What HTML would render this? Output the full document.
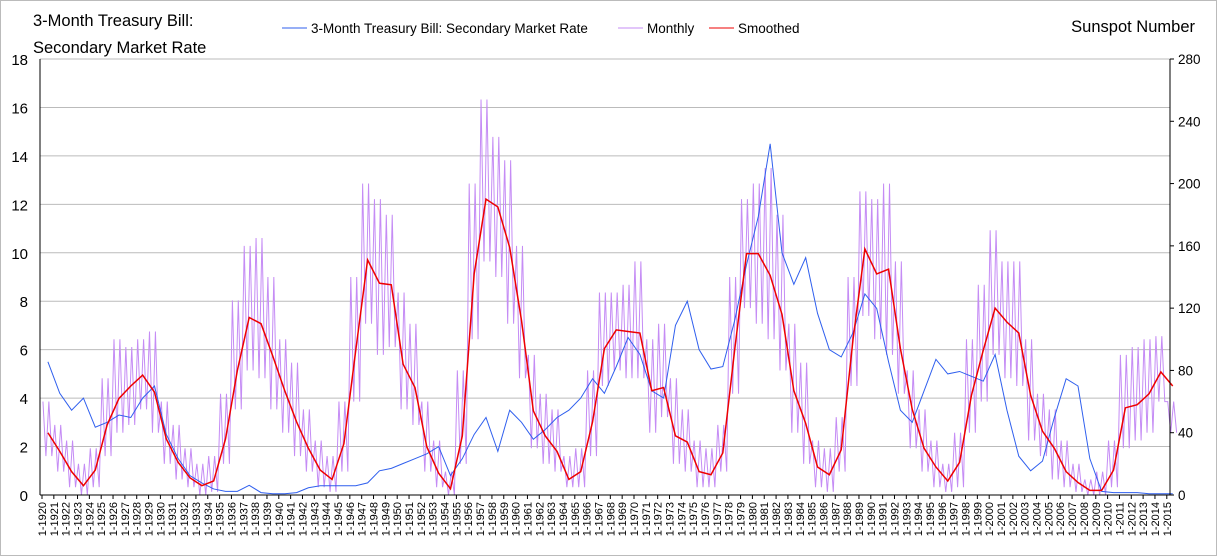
<!DOCTYPE html>
<html><head><meta charset="utf-8"><style>
body{margin:0;background:#fff;font-family:"Liberation Sans",sans-serif}
svg{display:block}
</style></head><body>
<svg id="c" width="1217" height="556">
<rect x="0.5" y="0.5" width="1216" height="555" fill="#fff" stroke="#bbb"/>
<text x="33" y="26" font-size="16.5">3-Month Treasury Bill:</text>
<text x="33" y="53" font-size="16.5">Secondary Market Rate</text>
<text x="1195" y="32" font-size="16.5" text-anchor="end">Sunspot Number</text>
<g font-size="13.5">
<line x1="282" y1="28" x2="307" y2="28" stroke="#2f5fee"/>
<text x="311" y="33">3-Month Treasury Bill: Secondary Market Rate</text>
<line x1="618" y1="28" x2="643" y2="28" stroke="#c58cf5"/>
<text x="647" y="33">Monthly</text>
<line x1="709" y1="28" x2="734" y2="28" stroke="#ee0000"/>
<text x="738" y="33">Smoothed</text>
</g>
<g id="grid"></g><g id="marks"></g><g id="axes"></g>
</svg>
<script>
const years=[];for(let y=1920;y<=2015;y++)years.push(y);
const tbill=[5.5,4.2,3.5,4.0,2.8,3.0,3.3,3.2,4.0,4.5,2.5,1.5,0.8,0.5,0.25,0.15,0.15,0.4,0.1,0.05,0.05,0.1,0.3,0.38,0.38,0.38,0.38,0.5,1.0,1.1,1.3,1.5,1.7,2.0,0.8,1.5,2.5,3.2,1.8,3.5,3.0,2.3,2.7,3.2,3.5,4.0,4.8,4.2,5.3,6.5,5.8,4.3,4.0,7.0,8.0,6.0,5.2,5.3,7.2,9.5,11.5,14.5,10.0,8.7,9.8,7.5,6.0,5.7,6.7,8.3,7.7,5.5,3.5,3.0,4.3,5.6,5.0,5.1,4.9,4.7,5.8,3.5,1.6,1.0,1.4,3.2,4.8,4.5,1.5,0.15,0.1,0.1,0.1,0.05,0.05,0.05];
const smoothed=[40,28,15,6,16,45,62,70,77,66,36,21,11,6,9,36,80,114,110,89,67,47,30,16,10,33,93,151,136,135,84,69,31,14,4,38,142,190,185,159,112,54,38,28,10,15,47,94,106,105,104,67,69,38,34,15,13,27,93,155,155,141,116,67,46,18,13,29,100,158,142,145,94,55,30,18,9,21,64,93,120,111,104,64,41,30,15,8,3,3,16,56,58,65,79,70];
const monthlyHigh=[60,45,35,20,30,75,100,95,100,105,60,45,30,20,25,65,125,160,165,140,100,85,55,35,25,60,140,200,190,180,130,110,60,35,15,80,200,254,230,215,160,90,65,55,25,30,80,130,130,135,150,100,110,75,55,35,30,45,140,190,200,210,180,110,85,35,30,50,140,195,190,200,150,80,55,35,20,40,100,135,170,150,150,100,65,55,35,20,10,15,35,90,95,100,102,60];
const monthlyLow=[25,15,5,0,5,25,40,45,55,40,20,10,5,0,2,20,55,80,75,55,40,25,15,5,2,15,60,110,90,95,55,45,15,5,0,20,100,150,140,110,75,30,20,15,5,5,25,70,80,75,75,40,50,20,15,5,5,15,65,120,110,100,80,40,20,5,2,15,70,115,100,90,65,30,15,5,2,5,40,60,90,75,70,35,25,10,5,2,0,0,5,30,35,40,60,40];
const leftTicks=[0,2,4,6,8,10,12,14,16,18];
const rightTicks=[0,40,80,120,160,200,240,280];
const NS='http://www.w3.org/2000/svg';
const X0=40,X1=1170,Y0=495,Y1=59;
const xs=y=>42+(y-1920)*11.84;
const yl=v=>Y0-(v/18)*(Y0-Y1);
const yr=v=>Y0-(v/280)*(Y0-Y1);
function mk(t,a,p){const e=document.createElementNS(NS,t);for(const k in a)e.setAttribute(k,a[k]);p.appendChild(e);return e;}
const grid=document.getElementById('grid'),marks=document.getElementById('marks'),axes=document.getElementById('axes');
leftTicks.forEach(v=>{
 if(v>0){const g=mk('line',{x1:X0,x2:X1,y1:yl(v),y2:yl(v),stroke:'#bbb'},grid);
 
 }
 const t=mk('text',{x:28,y:yl(v)+6,'font-size':15,'text-anchor':'end'},axes);t.textContent=v;
 
 
});
rightTicks.forEach(v=>{
 const t=mk('text',{x:1178,y:yr(v)+5,'font-size':13.5},axes);t.textContent=v;
 
 
 mk('line',{x1:X1,x2:X1+4,y1:yr(v),y2:yr(v),stroke:'#000'},axes);
});
// monthly band: alternate between yearly high and low readings
let mp=[];years.forEach((y,i)=>{
 [0.08,0.33,0.58,0.83].forEach((f,k)=>mp.push([xs(y+f),yr(k%2?monthlyLow[i]:monthlyHigh[i])]));
 [0.2,0.45,0.7,0.95].forEach((f,k)=>{});
});
const m=mk('polyline',{points:mp.map(p=>p.join(',')).join(' '),fill:'none',stroke:'#c58cf5','stroke-width':1},marks);


const tb=mk('polyline',{points:years.map((y,i)=>xs(y+0.5)+','+yl(tbill[i])).join(' '),fill:'none',stroke:'#2f5fee','stroke-width':1},marks);


const sm=mk('polyline',{points:years.map((y,i)=>xs(y+0.5)+','+yr(smoothed[i])).join(' '),fill:'none',stroke:'#ee0000','stroke-width':1.5},marks);


mk('line',{x1:X0,x2:X0,y1:Y1,y2:Y0,stroke:'#000'},axes);
mk('line',{x1:X1,x2:X1,y1:Y1,y2:Y0,stroke:'#000'},axes);
mk('line',{x1:X0,x2:X1,y1:Y0,y2:Y0,stroke:'#000'},axes);
years.forEach(y=>{
 const x=xs(y);
 mk('line',{x1:x,x2:x,y1:Y0,y2:Y0+4,stroke:'#000'},axes);
 const t=mk('text',{x:0,y:0,'font-size':11,'text-anchor':'end',transform:`translate(${x+4},${Y0+7}) rotate(-90)`},axes);
 t.textContent='1-'+y;
 
 
});
</script>
</body></html>
